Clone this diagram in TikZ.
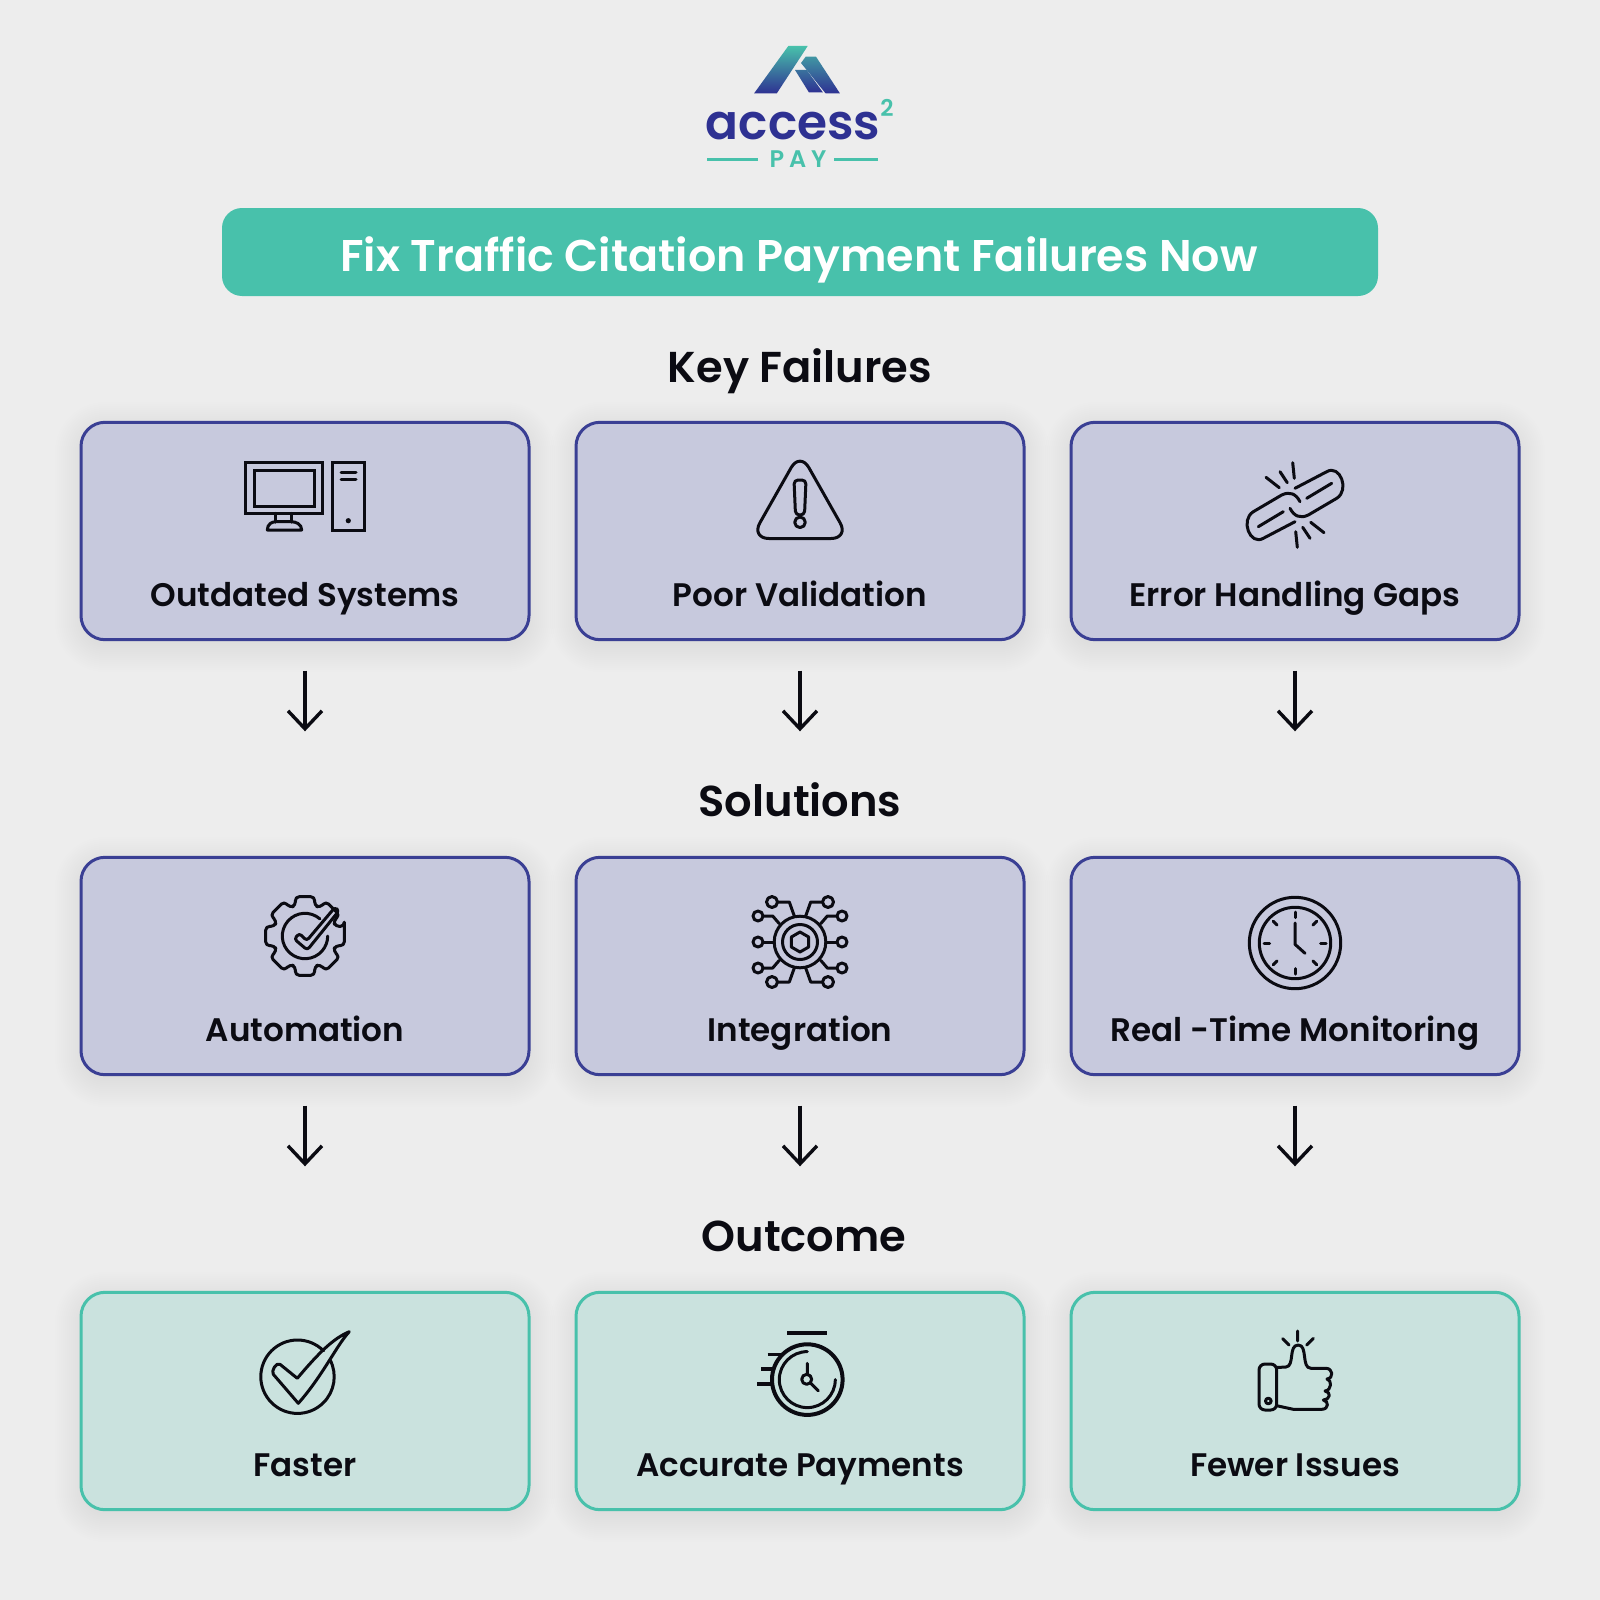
\documentclass[tikz,border=0pt]{standalone}
\usepackage{fontspec}
\setmainfont{Poppins SemiBold}
\usetikzlibrary{positioning,arrows.meta}
\definecolor{pagebg}{HTML}{EDEDED}
\definecolor{tealbar}{HTML}{48C1AB}
\definecolor{navy}{HTML}{3A3F94}
\definecolor{cardblue}{HTML}{C7C9DD}
\definecolor{cardteal}{HTML}{CAE2DE}
\definecolor{logoblue}{HTML}{2E3192}
\definecolor{ink}{HTML}{0B0B12}
\tikzset{
  card/.style={rounded corners=12pt,minimum width=\wid,minimum height=\hei,outer sep=0pt,line width=1.5pt},
  failcard/.style={card,draw=navy,fill=cardblue},
  goodcard/.style={card,draw=tealbar,fill=cardteal},
  cardtext/.style={anchor=base,font=\fontsize{16.3}{20}\selectfont,text=ink,inner sep=0pt},
  heading/.style={anchor=base,font=\fontsize{21.6}{26}\selectfont,text=ink,inner sep=0pt},
  flow/.style={-{Straight Barb[length=9pt,width=17pt,line width=1.7pt]},line width=1.7pt,ink,shorten <=15.5pt,shorten >=63pt},
  ico/.style={ink,line width=1.5pt,line cap=round,line join=round}
}
\begin{document}
\begin{tikzpicture}[x=0.5pt,y=-0.5pt]
  \def\wid{224pt}\def\hei{108.7pt}\def\gapx{23.5pt}\def\gapy{108.8pt}
  \useasboundingbox[fill=pagebg] (0,0) rectangle (1600,1600);
  %logo
  \shade[top color=tealbar,bottom color=logoblue] (788.3,46) -- (807.7,46) -- (776.7,93.5) -- (754,93.5) -- cycle;
  \shade[top color=tealbar!70!logoblue,bottom color=logoblue] (805.7,56.7) -- (816,56.7) -- (840,93.5) -- (825.7,93.5) -- (801,63) -- cycle;
  \shade[top color=tealbar!45!logoblue,bottom color=logoblue] (795,70) -- (806.7,70) -- (823,92.5) -- (809,92.5) -- cycle;
  \node[anchor=base,inner sep=0pt,text=logoblue,font=\fontsize{24.3}{26}\selectfont] (brand) at (793,139.3) {access};
  \node[anchor=base,inner sep=0pt,text=tealbar,font=\fontsize{11.5}{12}\selectfont] (brandsup) at (887,117) {2};
  \node[anchor=base,inner sep=0pt,text=tealbar,font=\fontsize{12}{12}\selectfont\addfontfeature{LetterSpace=20}] (brandpay) at (798,167) {PAY};
  \draw[tealbar,line width=1.5pt] (707.3,159.3) -- (758.3,159.3);
  \draw[tealbar,line width=1.5pt] (834.3,159.3) -- (878.3,159.3);
  %shadows
  \foreach \cx in {305,800,1295}
    \foreach \cy in {531,966,1401}
      \foreach \g in {-6,-4,...,26}
        \fill[black,opacity=0.005,rounded corners={12pt+\g*0.5pt}] ({\cx-224-\g},{\cy-109-\g+6}) rectangle ({\cx+224+\g},{\cy+109+\g+6});
  %title
  \node[fill=tealbar,rounded corners=10pt,minimum width=578pt,minimum height=44pt,outer sep=0pt] (banner) at (800,252) {};
  \node[heading,font=\fontsize{22.2}{26}\selectfont,text=white] (title) at (799,271) {Fix Traffic Citation Payment Failures Now};
  %rows
  \node[heading] (keyhead) at (800,382) {Key Failures};
  \node[failcard] (fail1) at (305,531) {};
  \node[failcard,right=\gapx of fail1] (fail2) {};
  \node[failcard,right=\gapx of fail2] (fail3) {};
  \node[heading] (fixhead) at (800,816) {Solutions};
  \node[failcard,below=\gapy of fail1] (fix1) {};
  \node[failcard,right=\gapx of fix1] (fix2) {};
  \node[failcard,right=\gapx of fix2] (fix3) {};
  \node[heading] (endhead) at (804,1251) {Outcome};
  \node[goodcard,below=\gapy of fix1] (end1) {};
  \node[goodcard,right=\gapx of end1] (end2) {};
  \node[goodcard,right=\gapx of end2] (end3) {};
  %labels
  \foreach \n/\t in {fail1/Outdated Systems,fail2/Poor Validation,fail3/Error Handling Gaps,fix1/Automation,fix2/Integration,fix3/Real -Time Monitoring,end1/Faster,end2/Accurate Payments,end3/Fewer Issues}
    \node[cardtext,yshift=16.5pt] (\n text) at (\n.south) {\t};
  %arrows
  \foreach \i in {1,2,3} {
    \draw[flow] (fail\i) -- (fix\i);
    \draw[flow] (fix\i) -- (end\i);
  }
  %computer
  \draw[ico,line cap=butt,line join=miter] (245.7,462.3) rectangle (322.3,513.3);
  \draw[ico,line cap=butt,line join=miter] (254.3,470.7) rectangle (314,506);
  \draw[ico] (275.7,513.3) -- (275.7,522) (291,513.3) -- (291,522);
  \draw[ico] (267.3,530) .. controls (267.3,524) and (272,521.7) .. (276,521.7) -- (291,521.7) .. controls (296,521.7) and (301.7,524) .. (301.7,530) -- cycle;
  \draw[ico,line cap=butt,line join=miter] (332.7,462.3) rectangle (364.3,530.7);
  \draw[ico] (341,472.3) -- (356,472.3) (341,479) -- (356,479);
  \fill[ink] (348.3,520.7) circle[radius=2.6];
  %warning
  \draw[ico,rounded corners=9pt] (800,538.5) -- (751,538.5) -- (800,452) -- (849,538.5) -- cycle;
  \draw[ico,rounded corners=2pt] (794,480) -- (806,480) -- (804.5,515) -- (795.5,515) -- cycle;
  \draw[ico] (800,522.3) circle[radius=5.3];
  %broken link
  \begin{scope}[shift={(1295,505)}]
    \foreach \a in {0,180} {
      \begin{scope}[rotate=\a]
        \draw[ico] (5,-3.3) .. controls (1,-11) and (-5,-14) .. (-13.3,-10) -- (-41.7,6.7) .. controls (-55,15) and (-45,41) .. (-31.7,33.3) -- (0,16.7);
        \draw[ico] (-36.7,21.7) -- (-11.7,6.7);
        \draw[ico] (-2.3,-42.3) -- (-0.7,-26.7) (-15,-33.3) -- (-7.7,-22.3) (-29,-27.7) -- (-15.7,-17.3);
      \end{scope}
    }
  \end{scope}
  %gear
  \begin{scope}[shift={(305,936)}]
    \draw[ico,rounded corners=2pt] (-14:40.5) \foreach \a in {0,45,...,315} { -- (\a-14:40.5) -- (\a+14:40.5) -- (\a+17:32) -- (\a+28:32) } -- cycle;
    \draw[ico] (-49:22.7) arc[start angle=-49,end angle=-360,radius=22.7];
  \end{scope}
  \draw[ico,rounded corners=1.5pt] (294.3,939) -- (299.3,933.3) -- (306.7,940.7) -- (335,907.3) -- (339,910.7) -- (307.3,950) -- cycle;
  %integration
  \begin{scope}[shift={(800,942)}]
    \draw[ico] (0,0) circle[radius=25.8] (0,0) circle[radius=17.5];
    \draw[ico] (90:10) -- (150:10) -- (210:10) -- (270:10) -- (330:10) -- (30:10) -- cycle;
    \foreach \sx in {1,-1} {
      \begin{scope}[xscale=\sx]
        \draw[ico] (-25.8,0) -- (-37,0);
        \draw[ico] (-42,0) circle[radius=5];
        \foreach \sy in {1,-1} {
          \begin{scope}[yscale=\sy]
            \draw[ico] (-20.7,-18.3) -- (-27.3,-26) -- (-37,-26);
            \draw[ico] (-42,-26) circle[radius=5];
            \draw[ico] (-5.7,-26) -- (-10.7,-40) -- (-22.5,-40);
            \draw[ico] (-28,-40) circle[radius=5.5];
          \end{scope}
        }
      \end{scope}
    }
  \end{scope}
  %clock
  \begin{scope}[shift={(1295,943)}]
    \draw[ico] (0,0) circle[radius=45.7] (0,0) circle[radius=35.7];
    \foreach \a in {0,45,...,315} \draw[ico] (\a:25.5) -- (\a:31);
    \draw[ico] (0,-20) -- (0,1.3) -- (10,10.3);
  \end{scope}
  %check
  \draw[ico] (297.5,1376.7)+(-45:36.7) arc[start angle=-45,end angle=-387,radius=36.7];
  \draw[ico] (273.3,1374.3) .. controls (271,1371) and (276,1362) .. (280,1364.3) -- (297.3,1378.3) .. controls (318.3,1353.3) and (333.3,1338.3) .. (349.3,1331.7) .. controls (336.7,1345) and (323.3,1375) .. (298.3,1403.3) -- cycle;
  %stopwatch
  \draw[ink,line width=2.4pt] (787.3,1333) -- (827.3,1333);
  \draw[ink,line width=2pt] (807.3,1379.6) circle[radius=35.3];
  \draw[ico] (807.3,1379.6)+(-90:28) arc[start angle=-90,end angle=-360,radius=28];
  \draw[ink,line width=1.7pt] (767.7,1354.3) -- (781.7,1354.3) (761,1369) -- (775,1369) (757.3,1384) -- (771.7,1384);
  \draw[ico] (807.3,1363.3) -- (807.3,1374) (810.5,1383) -- (818.3,1390.7);
  \draw[ico] (806.7,1379.3) circle[radius=5];
  %thumb
  \draw[ico] (1297.7,1331) -- (1297.7,1341) (1282.7,1338.7) -- (1289,1345) (1313.3,1338.3) -- (1306.7,1345);
  \draw[ico,rounded corners=3pt] (1259,1364) rectangle (1276.7,1410);
  \draw[ico] (1268.3,1401) circle[radius=2.8];
  \draw[ico] (1276.7,1367.5) -- (1286,1367) .. controls (1295,1366) and (1288,1345) .. (1298.3,1345) .. controls (1308,1345) and (1301,1368.3) .. (1311,1368.3) -- (1326,1368.3) .. controls (1333,1368.5) and (1334,1378) .. (1327,1379) .. controls (1332,1380) and (1332,1390) .. (1325,1391) .. controls (1331,1392) and (1331,1399) .. (1323.3,1400) .. controls (1329,1401) and (1329,1409.3) .. (1321.7,1409.3) -- (1293.3,1409.3) -- (1276.7,1405.7);
\end{tikzpicture}
\end{document}
